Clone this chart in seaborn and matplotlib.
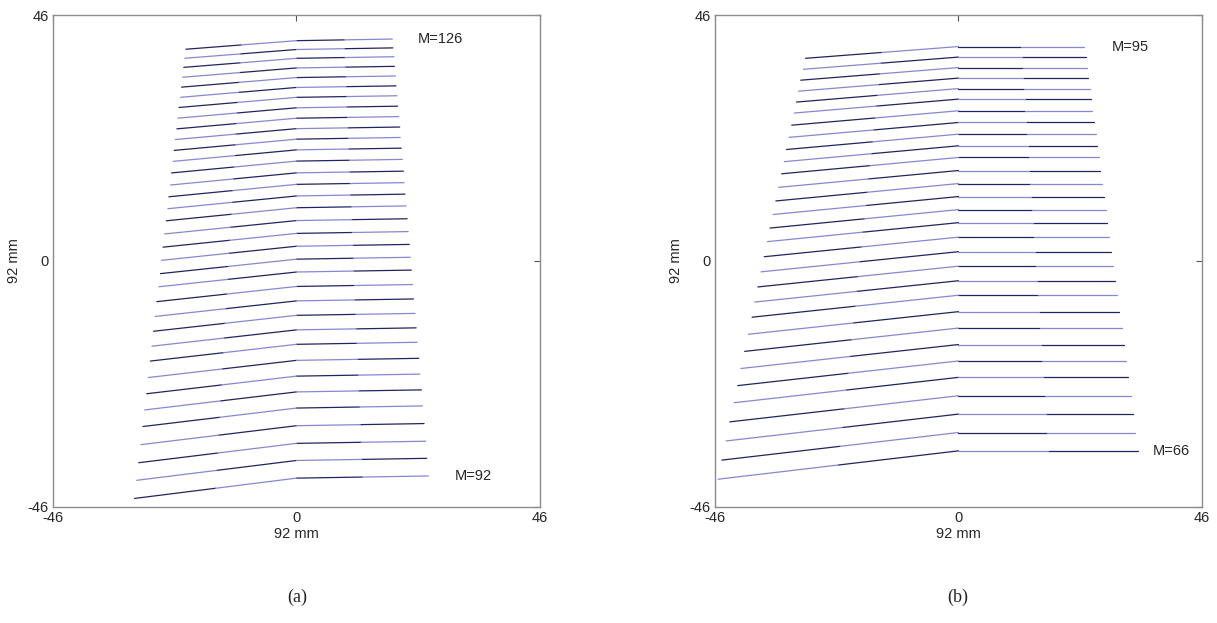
import numpy as np
import pandas as pd
import matplotlib
matplotlib.use("Agg")
import matplotlib.pyplot as plt
import seaborn as sns

# panel (a): M=126 (top) down to M=92 (bottom), values in mm
a_right_y = [41.5, 39.85, 38.2, 36.4, 34.6, 32.75, 30.9, 28.95, 27.0, 25.05,
             23.1, 21.1, 19.0, 16.8, 14.65, 12.5, 10.3, 7.9, 5.5, 3.1,
             0.7, -1.7, -4.4, -7.1, -9.8, -12.5, -15.2, -18.2, -21.15, -24.1,
             -27.1, -30.4, -33.7, -36.9, -40.2]
a_left_x = [-20.9, -21.1, -21.3, -21.5, -21.7, -21.9, -22.2, -22.4, -22.6, -22.9,
            -23.1, -23.3, -23.6, -23.8, -24.1, -24.3, -24.6, -24.9, -25.2, -25.5,
            -25.7, -26.0, -26.4, -26.7, -27.0, -27.3, -27.6, -28.0, -28.3, -28.7,
            -29.0, -29.4, -29.8, -30.2, -30.6]
a_right_x = [18.1, 18.2, 18.4, 18.5, 18.7, 18.8, 19.0, 19.1, 19.3, 19.5,
             19.6, 19.8, 20.0, 20.2, 20.3, 20.5, 20.7, 20.9, 21.1, 21.3,
             21.5, 21.7, 21.9, 22.1, 22.4, 22.6, 22.8, 23.1, 23.3, 23.6,
             23.8, 24.1, 24.4, 24.6, 24.9]
a_drop = [1.60, 1.64, 1.69, 1.74, 1.79, 1.84, 1.89, 1.94, 1.99, 2.04,
          2.10, 2.15, 2.21, 2.27, 2.32, 2.38, 2.44, 2.50, 2.57, 2.63,
          2.70, 2.76, 2.84, 2.91, 2.98, 3.05, 3.13, 3.21, 3.29, 3.37,
          3.45, 3.54, 3.62, 3.71, 3.80]
a_rise = [0.30, 0.30, 0.30, 0.30, 0.30, 0.30, 0.30, 0.30, 0.30, 0.30,
          0.32, 0.32, 0.32, 0.32, 0.32, 0.34, 0.34, 0.34, 0.34, 0.34,
          0.36, 0.36, 0.36, 0.36, 0.36, 0.38, 0.38, 0.38, 0.38, 0.38,
          0.40, 0.40, 0.40, 0.40, 0.40]

# panel (b): M=95 (top) down to M=66 (bottom)
b_right_y = [40.1, 38.13, 36.17, 34.2, 32.24, 30.27, 28.09, 25.9, 23.72, 21.54,
             19.36, 16.92, 14.48, 12.05, 9.61, 7.17, 4.46, 1.74, -0.97, -3.69,
             -6.4, -9.47, -12.54, -15.62, -18.69, -21.76, -25.2, -28.63, -32.07, -35.5]
b_left_x = [-28.9, -29.3, -29.8, -30.2, -30.6, -31.0, -31.5, -32.0, -32.5, -32.9,
            -33.4, -34.0, -34.5, -35.0, -35.6, -36.1, -36.7, -37.3, -37.9, -38.5,
            -39.0, -39.7, -40.4, -41.1, -41.7, -42.4, -43.2, -43.9, -44.7, -45.4]
b_right_x = [23.7, 24.0, 24.2, 24.5, 24.8, 25.0, 25.3, 25.6, 25.9, 26.2,
             26.5, 26.8, 27.2, 27.5, 27.8, 28.1, 28.5, 28.9, 29.2, 29.6,
             30.0, 30.4, 30.8, 31.2, 31.6, 32.0, 32.5, 33.0, 33.4, 33.9]
b_drop = [2.20, 2.28, 2.36, 2.44, 2.52, 2.60, 2.69, 2.78, 2.87, 2.96,
          3.05, 3.15, 3.25, 3.35, 3.45, 3.55, 3.66, 3.77, 3.88, 3.99,
          4.11, 4.23, 4.36, 4.48, 4.61, 4.74, 4.88, 5.02, 5.16, 5.30]
b_rise = [0.0] * len(b_right_y)

a_labels = ["M=126", "M=92"]
b_labels = ["M=95", "M=66"]
ticks = [-46, 0, 46]
axis_label = "92 mm"

tone_colors = {"dark": "#23235f", "light": "#8787d2"}


def build_segments(left_x, right_x, right_y, drop, rise):
    rows = []
    seg = 0
    for i in range(len(right_y)):
        mid_y = right_y[i] - rise[i]
        left_y = mid_y - drop[i]
        pts = [(left_x[i], left_y),
               (left_x[i] / 2, (left_y + mid_y) / 2),
               (0.0, mid_y),
               (right_x[i] / 2, (mid_y + right_y[i]) / 2),
               (right_x[i], right_y[i])]
        for j in range(4):
            tone = "dark" if (i + j) % 2 == 0 else "light"
            for p in pts[j:j + 2]:
                rows.append({"x": p[0], "y": p[1], "seg": seg, "tone": tone})
            seg += 1
    return pd.DataFrame(rows)


sns.set_style("white")
plt.rcParams["font.family"] = ["Liberation Sans", "DejaVu Sans"]

fig = plt.figure(figsize=(12.17, 6.23), dpi=100)
ax_a = fig.add_axes([0.04355, 0.18620, 0.40016, 0.78972])
ax_b = fig.add_axes([0.58751, 0.18620, 0.40016, 0.78972])

df_a = build_segments(a_left_x, a_right_x, a_right_y, a_drop, a_rise)
df_b = build_segments(b_left_x, b_right_x, b_right_y, b_drop, b_rise)

for ax, df in [(ax_a, df_a), (ax_b, df_b)]:
    sns.lineplot(data=df, x="x", y="y", units="seg", estimator=None, sort=False,
                 hue="tone", palette=tone_colors, legend=False, linewidth=0.9, ax=ax)
    ax.set_xlim(-46, 46)
    ax.set_ylim(-46, 46)
    ax.set_xticks(ticks)
    ax.set_yticks(ticks)
    ax.set_xticklabels([str(t) for t in ticks], fontsize=10.5)
    ax.set_yticklabels([str(t) for t in ticks], fontsize=10.5)
    ax.tick_params(direction="in", top=True, right=True, length=4, width=0.8,
                   color="#555555", pad=3)
    ax.set_xlabel(axis_label, fontsize=10.5, labelpad=1)
    ax.set_ylabel(axis_label, fontsize=10.5, labelpad=4.5)
    for sp in ax.spines.values():
        sp.set_color("#8c8c8c")
        sp.set_linewidth(1.0)

# M labels next to the first and last line of each panel
ax_a.text(a_right_x[0] + 4.8, a_right_y[0], a_labels[0], fontsize=10.5, va="center", ha="left")
ax_a.text(a_right_x[-1] + 5.0, a_right_y[-1], a_labels[1], fontsize=10.5, va="center", ha="left")
ax_b.text(b_right_x[0] + 5.2, b_right_y[0], b_labels[0], fontsize=10.5, va="center", ha="left")
ax_b.text(b_right_x[-1] + 2.8, b_right_y[-1], b_labels[1], fontsize=10.5, va="center", ha="left")

fig.text(297 / 1217, 1 - 597 / 623, "(a)", ha="center", va="center",
         fontsize=13, family=["Liberation Serif", "DejaVu Serif"])
fig.text(958 / 1217, 1 - 597 / 623, "(b)", ha="center", va="center",
         fontsize=13, family=["Liberation Serif", "DejaVu Serif"])

fig.savefig("out.png", dpi=100, facecolor="white")
